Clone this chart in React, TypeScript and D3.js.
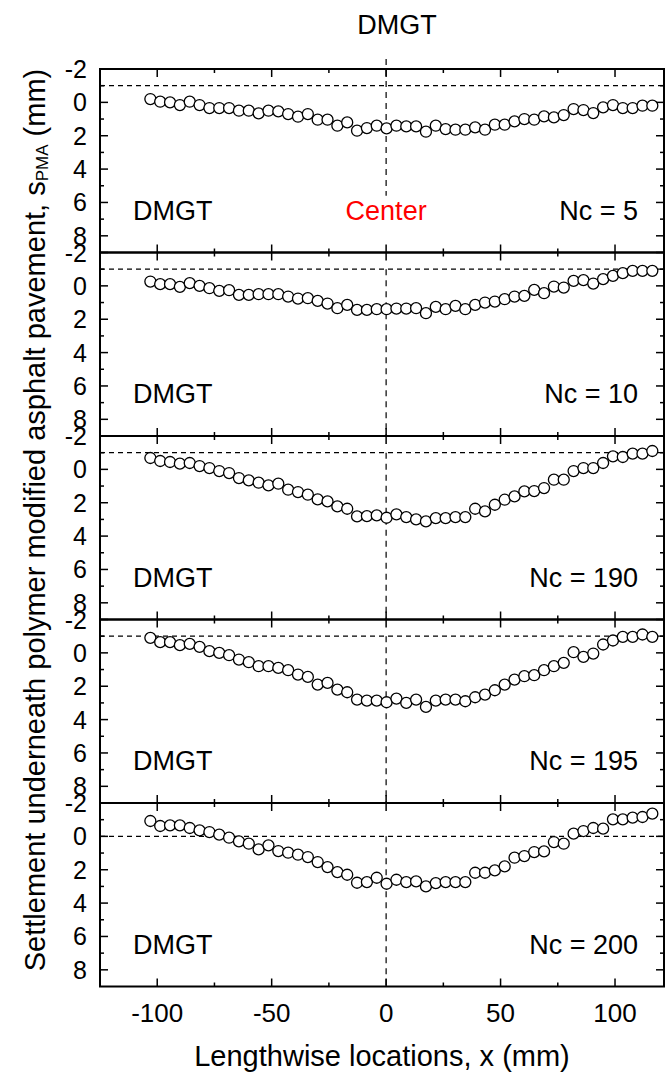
import React from "react";
import * as d3 from "d3";

const xLoc = [
  -103, -98.7, -94.4, -90.1, -85.8, -81.5, -77.2, -72.9, -68.6, -64.3, -60, -55.7, -51.4,
  -47.1, -42.8, -38.5, -34.2, -29.9, -25.6, -21.3, -17, -12.7, -8.4, -4.1, 0.2, 4.5,
  8.8, 13.1, 17.4, 21.7, 26, 30.3, 34.6, 38.9, 43.2, 47.5, 51.8, 56.1, 60.4, 64.7,
  69, 73.3, 77.6, 81.9, 86.2, 90.5, 94.8, 99.1, 103.4, 107.7, 112, 116.3,
];

const nc5 = [
  -0.2, -0.04, 0, 0.16, -0.04, 0.16, 0.34, 0.34, 0.34, 0.5, 0.5, 0.66, 0.5, 0.54, 0.7, 0.86,
  0.7, 1.04, 1.04, 1.4, 1.2, 1.7, 1.54, 1.4, 1.56, 1.4, 1.44, 1.44, 1.76, 1.4, 1.6, 1.64,
  1.64, 1.5, 1.64, 1.34, 1.34, 1.14, 1.0, 1.04, 0.84, 0.9, 0.76, 0.4, 0.46, 0.64, 0.3, 0.16,
  0.34, 0.34, 0.2, 0.2,
];
const nc10 = [
  -0.26, -0.1, -0.1, 0.06, -0.16, 0, 0.14, 0.3, 0.26, 0.54, 0.54, 0.5, 0.5, 0.5, 0.64, 0.76,
  0.74, 0.9, 1.06, 1.34, 1.14, 1.44, 1.44, 1.4, 1.4, 1.36, 1.36, 1.34, 1.64, 1.26, 1.4, 1.2,
  1.4, 1.14, 1.0, 0.94, 0.8, 0.64, 0.6, 0.24, 0.44, 0.04, 0.1, -0.3, -0.34, -0.14, -0.4, -0.6,
  -0.76, -0.9, -0.9, -0.9,
];
const nc190 = [
  -0.68, -0.5, -0.44, -0.34, -0.38, -0.2, -0.08, 0.1, 0.22, 0.52, 0.66, 0.8, 0.96, 0.86, 1.22, 1.36,
  1.52, 1.8, 1.92, 2.22, 2.36, 2.82, 2.8, 2.76, 2.9, 2.7, 2.86, 3.0, 3.12, 2.92, 2.92, 2.86,
  2.86, 2.36, 2.52, 2.12, 1.82, 1.62, 1.32, 1.3, 1.12, 0.62, 0.62, 0.1, -0.08, -0.08, -0.38, -0.78,
  -0.74, -0.94, -0.94, -1.1,
];
const nc195 = [
  -0.9, -0.64, -0.64, -0.46, -0.54, -0.36, -0.1, 0, 0.14, 0.4, 0.56, 0.8, 0.8, 0.9, 1.04, 1.3,
  1.44, 1.9, 1.8, 2.2, 2.36, 2.8, 2.86, 2.86, 2.96, 2.74, 3.0, 2.8, 3.24, 2.86, 2.8, 2.8,
  2.9, 2.66, 2.5, 2.24, 1.9, 1.6, 1.4, 1.34, 1.04, 0.8, 0.6, -0.04, 0.24, 0.04, -0.5, -0.74,
  -0.96, -0.96, -1.1, -0.96,
];
const nc200 = [
  -0.92, -0.62, -0.66, -0.66, -0.5, -0.36, -0.26, -0.1, 0.08, 0.3, 0.44, 0.78, 0.54, 0.88, 0.98, 1.1,
  1.24, 1.54, 1.84, 2.14, 2.3, 2.78, 2.74, 2.48, 2.84, 2.6, 2.74, 2.7, 3.0, 2.8, 2.74, 2.74,
  2.74, 2.18, 2.18, 2.04, 1.8, 1.28, 1.18, 0.94, 0.9, 0.34, 0.44, -0.16, -0.32, -0.5, -0.46, -1.02,
  -1.02, -1.12, -1.16, -1.36,
];

const panelLabels = ["Nc = 5", "Nc = 10", "Nc = 190", "Nc = 195", "Nc = 200"];
const panelSeries = [nc5, nc10, nc190, nc195, nc200];
const refLines = [-1, -1, -1, -1, 0];

const xMajor = [-100, -50, 0, 50, 100];
const xMinor = [-125, -75, -25, 25, 75];
const yMajor = [-2, 0, 2, 4, 6, 8];
const yMinor = [-1, 1, 3, 5, 7];

const W = 667;
const H = 1080;
const left = 100;
const right = 664;
const top0 = 69;
const panelH = 183.5;
const font = "Liberation Sans, Arial, Helvetica, sans-serif";

export default function App() {
  const x = d3.scaleLinear().domain([-125, 121.4]).range([left, right]);
  const bottomAll = top0 + panelH * 5;

  return (
    <div style={{ position: "absolute", left: 0, top: 0 }}>
      <svg width={W} height={H} style={{ display: "block", background: "#fff" }} fontFamily={font}>
        <text x={397} y={25} fontSize={27} textAnchor="middle" dominantBaseline="central" fill="#000">DMGT</text>
        {panelSeries.map((series, p) => {
          const t = top0 + p * panelH;
          const y = d3.scaleLinear().domain([-2, 9]).range([t, t + panelH]);
          const maj = 8;
          const min = 4;
          return (
            <g key={p}>
              <line x1={left} x2={right} y1={y(refLines[p])} y2={y(refLines[p])}
                stroke="#000" strokeWidth={1.2} strokeDasharray="5,4" />
              {p === 0 ? (
                <line x1={x(0)} x2={x(0)} y1={t - 10} y2={y(5.6)}
                  stroke="#000" strokeWidth={1.2} strokeDasharray="6,5" />
              ) : (
                <line x1={x(0)} x2={x(0)} y1={y(refLines[p])} y2={y(9)}
                  stroke="#000" strokeWidth={1.2} strokeDasharray="6,5" />
              )}
              {xMajor.map((v) => (
                <g key={"xm" + v}>
                  <line x1={x(v)} x2={x(v)} y1={t} y2={t + maj} stroke="#000" strokeWidth={1.5} />
                  <line x1={x(v)} x2={x(v)} y1={t + panelH} y2={t + panelH - maj} stroke="#000" strokeWidth={1.5} />
                </g>
              ))}
              {xMinor.map((v) => (
                <g key={"xn" + v}>
                  <line x1={x(v)} x2={x(v)} y1={t} y2={t + min} stroke="#000" strokeWidth={1.5} />
                  <line x1={x(v)} x2={x(v)} y1={t + panelH} y2={t + panelH - min} stroke="#000" strokeWidth={1.5} />
                </g>
              ))}
              {yMajor.map((v) => (
                <g key={"ym" + v}>
                  <line x1={left} x2={left + maj} y1={y(v)} y2={y(v)} stroke="#000" strokeWidth={1.5} />
                  <line x1={right} x2={right - maj} y1={y(v)} y2={y(v)} stroke="#000" strokeWidth={1.5} />
                  <text x={87} y={y(v)} fontSize={25} textAnchor="end" dominantBaseline="central" fill="#000">{v}</text>
                </g>
              ))}
              {yMinor.map((v) => (
                <g key={"yn" + v}>
                  <line x1={left} x2={left + min} y1={y(v)} y2={y(v)} stroke="#000" strokeWidth={1.5} />
                  <line x1={right} x2={right - min} y1={y(v)} y2={y(v)} stroke="#000" strokeWidth={1.5} />
                </g>
              ))}
              <rect x={left} y={t} width={right - left} height={panelH} fill="none" stroke="#000" strokeWidth={2} />
              {series.map((v, i) => (
                <circle key={i} cx={x(xLoc[i])} cy={y(v)} r={5.5} fill="#fff" stroke="#000" strokeWidth={1.3} />
              ))}
              <text x={133} y={y(6.5)} fontSize={27} dominantBaseline="central" fill="#000">DMGT</text>
              <text x={638} y={y(6.5)} fontSize={27} textAnchor="end" dominantBaseline="central" fill="#000">{panelLabels[p]}</text>
              {p === 0 && (
                <text x={x(0)} y={y(6.5)} fontSize={27} textAnchor="middle" dominantBaseline="central" fill="#ff0000">Center</text>
              )}
            </g>
          );
        })}
        {xMajor.map((v) => (
          <text key={"xl" + v} x={x(v)} y={bottomAll + 26} fontSize={26} textAnchor="middle" dominantBaseline="central" fill="#000">{v}</text>
        ))}
        <text x={382} y={1056} fontSize={29} textAnchor="middle" dominantBaseline="central" fill="#000">
          Lengthwise locations, x (mm)
        </text>
        <text transform="translate(35,520) rotate(-90)" fontSize={29} textAnchor="middle" dominantBaseline="central" fill="#000">
          Settlement underneath polymer modified asphalt pavement, s
          <tspan fontSize={17} dy={7}>PMA</tspan>
          <tspan dy={-7}> (mm)</tspan>
        </text>
      </svg>
    </div>
  );
}
